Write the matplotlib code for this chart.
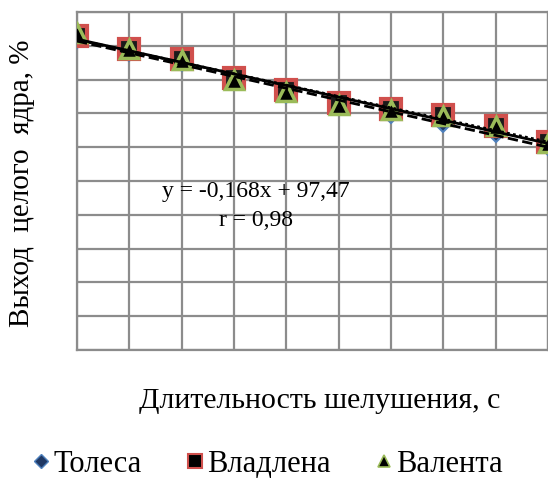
import numpy as np
import matplotlib.pyplot as plt
from matplotlib.lines import Line2D

plt.rcParams['font.family'] = ['Liberation Serif', 'DejaVu Serif']

# ---------------------------------------
# data
# ---------------------------------------
time_s = [10, 20, 30, 40, 50, 60, 70, 80, 90, 100]
tolesa = [96.1, 94.2, 92.8, 89.9, 88.0, 86.2, 85.0, 83.8, 82.2, 80.3]
vladlena = [96.4, 94.5, 93.0, 90.2, 88.4, 86.6, 85.7, 84.8, 83.1, 80.7]
valenta = [96.9, 94.5, 92.9, 90.0, 88.2, 86.3, 85.5, 84.6, 83.2, 80.6]
names = ["Толеса", "Владлена", "Валента"]
equation = "y = -0,168x + 97,47"
corr = "r = 0,98"

# ---------------------------------------
# figure
# ---------------------------------------
fig = plt.figure(figsize=(5.48, 4.95), dpi=100)
ax = fig.add_axes([77 / 548, 1 - 350 / 495, 471 / 548, 338 / 495])

grid_c = "#8c8c8c"
ax.set_xlim(10, 100)
ax.set_ylim(50, 100)
ax.set_xticks(np.arange(10, 101, 10))
ax.set_yticks(np.arange(50, 101, 5))
ax.grid(True, color=grid_c, linewidth=1.6)
ax.tick_params(length=0, labelbottom=False, labelleft=False)
for s in ax.spines.values():
    s.set_color(grid_c)
    s.set_linewidth(1.6)

x = np.array(time_s)
ax.plot(x, tolesa, linestyle="none", marker="D", markersize=10,
        markerfacecolor="#1f3864", markeredgecolor="#4f81bd", markeredgewidth=1.5, zorder=3)
ax.plot(x, vladlena, linestyle="none", marker="s", markersize=14,
        markerfacecolor="#1a1a1a", markeredgecolor="#d0504d", markeredgewidth=3, zorder=4)
ax.plot(x, valenta, linestyle="none", marker="^", markersize=13,
        markerfacecolor="black", markeredgecolor="#9bbb59", markeredgewidth=2.5, zorder=5)

# linear trend lines for each series
styles = ["--", (0, (1, 1.2)), "-"]
for ys, ls in zip([tolesa, vladlena, valenta], styles):
    k, b = np.polyfit(x, ys, 1)
    ax.plot(x, k * x + b, color="black", linestyle=ls, linewidth=2, zorder=6)

fig.text(256 / 548, 1 - 192 / 495, equation, ha="center", va="center", fontsize=17)
fig.text(256 / 548, 1 - 221 / 495, corr, ha="center", va="center", fontsize=17)

fig.text(22 / 548, 1 - 183 / 495, "Выход  целого  ядра, %", rotation=90,
         ha="center", va="center", fontsize=21)
fig.text(320 / 548, 1 - 401 / 495, "Длительность шелушения, с",
         ha="center", va="center", fontsize=21.5)

handles = [
    Line2D([], [], linestyle="none", marker="D", markersize=7,
           markerfacecolor="#1f3864", markeredgecolor="#4f81bd"),
    Line2D([], [], linestyle="none", marker="s", markersize=10,
           markerfacecolor="black", markeredgecolor="#d0504d", markeredgewidth=1.5),
    Line2D([], [], linestyle="none", marker="^", markersize=8,
           markerfacecolor="black", markeredgecolor="#9bbb59", markeredgewidth=1.2),
]
fig.legend(handles, names, loc="center", bbox_to_anchor=(268 / 548, 1 - 464 / 495),
           ncol=3, frameon=False, fontsize=22, handlelength=0.5,
           handletextpad=0.15, columnspacing=1.5)

fig.savefig("out.png", dpi=100)
